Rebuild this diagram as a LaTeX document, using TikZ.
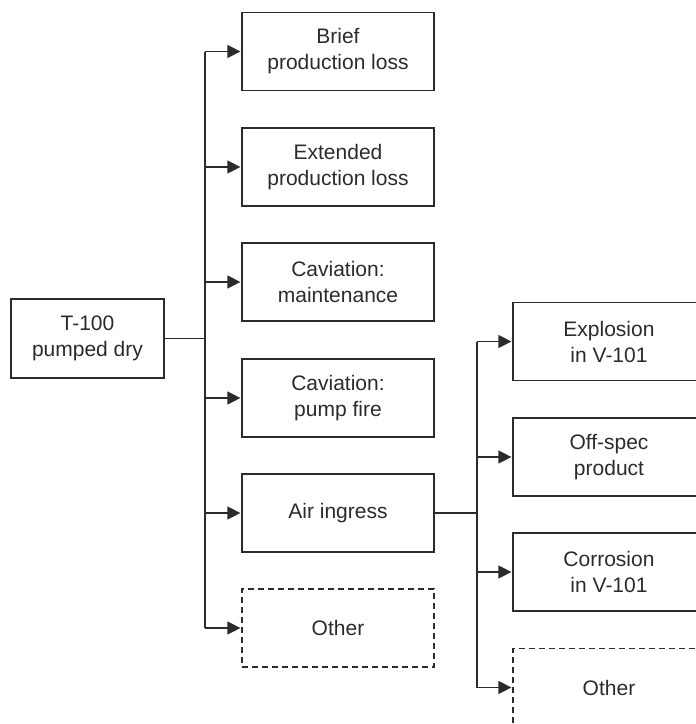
\documentclass[tikz,border=0pt]{standalone}
\usepackage{fontspec}
\setmainfont{Liberation Sans}
\usetikzlibrary{arrows.meta}
\definecolor{ink}{HTML}{2B2B2B}
\begin{document}
\begin{tikzpicture}[x=1pt,y=-1pt,
  box/.style={draw=ink, line width=1.2pt, minimum width=192pt, minimum height=78pt,
    inner sep=0pt, align=center, text=ink, font=\fontsize{21}{26}\selectfont},
  otherbox/.style={box, dash pattern=on 6pt off 4pt},
  link/.style={draw=ink, line width=1.2pt},
  arr/.style={link, -{Triangle[length=13pt,width=13pt]}, shorten >=1pt}]
\useasboundingbox (0,0) rectangle (696,724);
\clip (0,0) rectangle (696,724);

% root event
\node[box, minimum width=153pt, minimum height=79pt] (root) at (87.5,338.5) {T-100\\pumped dry};

% first-level consequences
\node[box] (brief) at (338,51.5) {Brief\\production loss};
\node[box] (ext) at (338,167) {Extended\\production loss};
\node[box] (maint) at (338,282) {Caviation:\\maintenance};
\node[box] (fire) at (338,398) {Caviation:\\pump fire};
\node[box] (air) at (338,513) {Air ingress};
\node[otherbox] (oth1) at (338,628) {Other};

% second-level consequences of air ingress
\node[box] (expl) at (609,341.5) {Explosion\\in V-101};
\node[box] (spec) at (609,457) {Off-spec\\product};
\node[box] (corr) at (609,572) {Corrosion\\in V-101};
\node[otherbox] (oth2) at (609,687.5) {Other};

% junctions
\coordinate (j1) at (205,338.5);
\coordinate (j2) at (477,513);

% root branch
\draw[link] (root.east) -- (j1);
\draw[link] (brief.west -| j1) -- (oth1.west -| j1);
\foreach \n in {brief,ext,maint,fire,air,oth1}
  \draw[arr] (\n.west -| j1) -- (\n.west);

% air ingress branch
\draw[link] (air.east) -- (j2);
\draw[link] (expl.west -| j2) -- (oth2.west -| j2);
\foreach \n in {expl,spec,corr,oth2}
  \draw[arr] (\n.west -| j2) -- (\n.west);
\end{tikzpicture}
\end{document}
